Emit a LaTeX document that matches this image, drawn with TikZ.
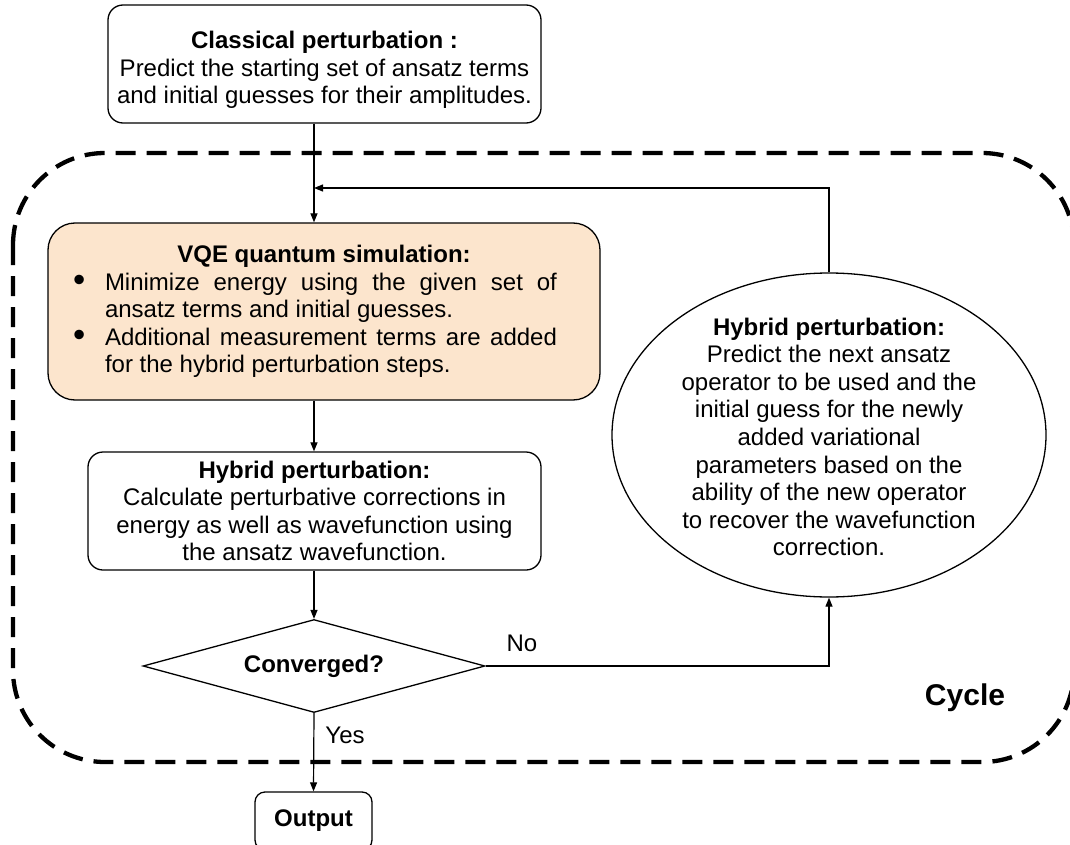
\documentclass[tikz,border=0pt]{standalone}
\usepackage{fontspec}
\setmainfont{Liberation Sans}
\usetikzlibrary{arrows.meta,shapes.geometric}
\definecolor{peach}{HTML}{FCE5CD}
\newcommand{\bigbul}{\raisebox{-1.2pt}{\scalebox{1.45}{\textbullet}}}
\begin{document}
\begin{tikzpicture}[x=1pt,y=-1pt,
  every node/.style={font=\fontsize{24}{27.6}\selectfont, inner sep=0pt},
  box/.style={draw, line width=1.3pt, rounded corners=15pt, align=center},
  conn/.style={line width=1.2pt, -{Triangle[length=9pt,width=7pt]}},
  cyclebox/.style={draw, line width=4.3pt, dash pattern=on 20pt off 11pt, rounded corners=92pt}]
\useasboundingbox (0,0) rectangle (1070,845);

% dashed cycle region
\draw[cyclebox] (13,153) rectangle (1074,762);

% nodes
\node[box, minimum width=433pt, minimum height=118pt] (top) at (324.5,64) {};
\node[align=center] (toptext) at (324.5,70)
  {\textbf{Classical perturbation :}\\Predict the starting set of ansatz terms\\and initial guesses for their amplitudes.};

\node[box, fill=peach, rounded corners=27pt, minimum width=552pt, minimum height=177pt] (vqe) at (324,311.5)
  {\parbox{504pt}{\hyphenpenalty=10000\tolerance=10000\hbadness=10000\parskip=0pt
   {\centering\bfseries VQE quantum simulation:\par}
   \rightskip=19pt\hangindent=33pt\hangafter=1\noindent\makebox[33pt][l]{\hspace{1pt}\bigbul}Minimize energy using the given set of ansatz terms and initial guesses.\par
   \hangindent=33pt\hangafter=1\noindent\makebox[33pt][l]{\hspace{1pt}\bigbul}Additional measurement terms are added for the hybrid perturbation steps.\par}};

\node[box, minimum width=453pt, minimum height=118pt] (hyb) at (314.5,511)
  {\textbf{Hybrid perturbation:}\\Calculate perturbative corrections in\\energy as well as wavefunction using\\the ansatz wavefunction.};

\node[draw, diamond, aspect=3.68, line width=1.3pt, minimum width=342pt, minimum height=93pt] (dia) at (314,666)
  {\textbf{Converged?}};

\node[box, rounded corners=10pt, minimum width=117pt, minimum height=58pt] (out) at (313.5,821)
  {\textbf{Output}};

\node[draw, ellipse, line width=1.3pt, minimum width=434pt, minimum height=324pt] (ell) at (829,435) {};
\node[align=center] (elltext) at (829,437)
  {\textbf{Hybrid perturbation:}\\Predict the next ansatz\\operator to be used and the\\initial guess for the newly\\added variational\\parameters based on the\\ability of the new operator\\to recover the wavefunction\\correction.};

\node (cyc) at (965,698) {\fontsize{30}{34}\selectfont\bfseries Cycle};
\node (no) at (522,643) {No};
\node (yes) at (345,735) {Yes};

% connectors
\coordinate (cx) at (314,0);
\coordinate (fb) at (314,188);
\draw[conn] (top.south -| cx) -- (vqe.north -| cx);
\draw[conn] (ell.north) |- (fb);
\draw[conn] (vqe.south -| cx) -- (hyb.north -| cx);
\draw[conn] (hyb.south -| cx) -- (dia.north);
\draw[conn] (dia.east) -| (ell.south);
\draw[conn] (dia.south) -- (out.north);
\end{tikzpicture}
\end{document}
